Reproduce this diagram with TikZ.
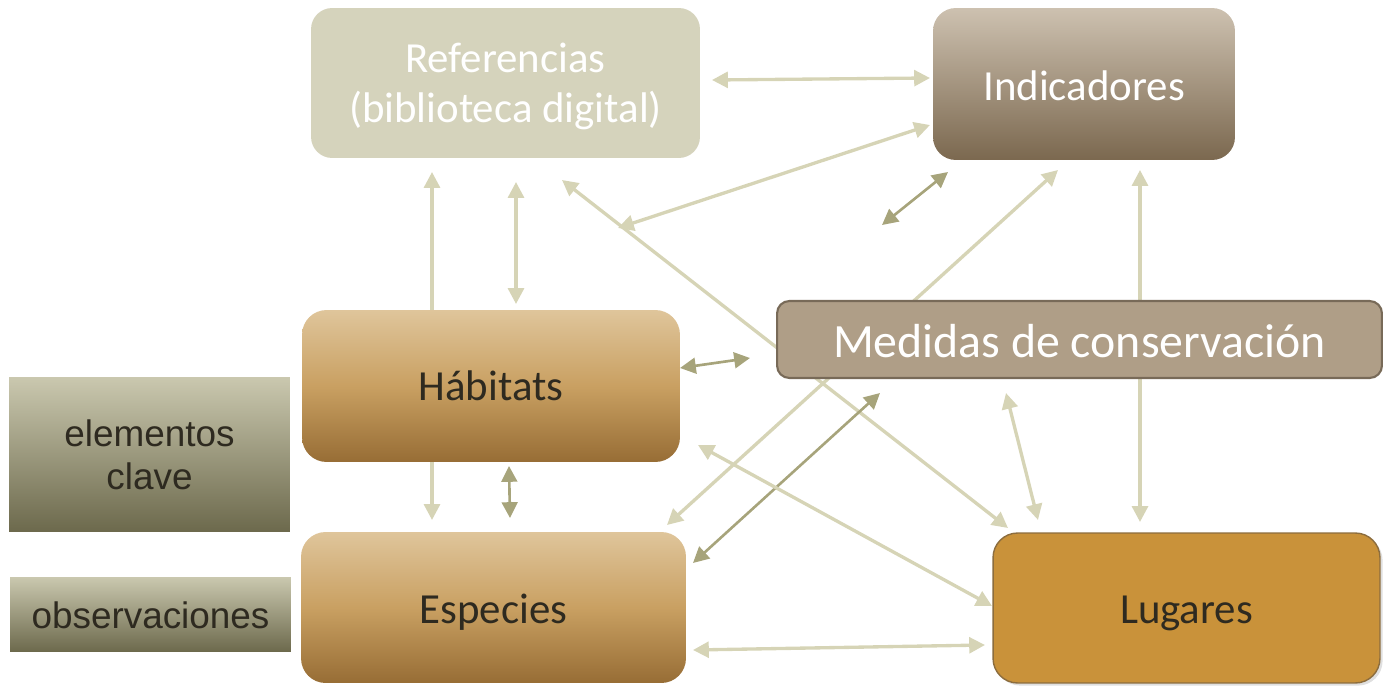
\documentclass[tikz,border=0pt]{standalone}
\usepackage{fontspec}
\setmainfont{Carlito}
\newfontfamily\arialf{Liberation Sans}
\usetikzlibrary{arrows.meta,shadows}
\definecolor{lightc}{HTML}{D6D4B6}
\definecolor{darkc}{HTML}{A7A47B}
\definecolor{reffill}{HTML}{D5D3BC}
\definecolor{indtop}{HTML}{CDC1B0}
\definecolor{indbot}{HTML}{7B684F}
\definecolor{medfill}{HTML}{AF9E87}
\definecolor{medline}{HTML}{786A58}
\definecolor{habtop}{HTML}{DFC59B}
\definecolor{habmid}{HTML}{C9A062}
\definecolor{habbot}{HTML}{976D35}
\definecolor{lugfill}{HTML}{C9923A}
\definecolor{lugline}{HTML}{8C6D3E}
\definecolor{keytop}{HTML}{CAC8AF}
\definecolor{keybot}{HTML}{6C694C}
\definecolor{txtdark}{HTML}{2E2A20}
\pgfdeclarelayer{bg}
\pgfsetlayers{bg,main}
\newcommand{\dn}[2]{\raisebox{-#1}[\height][\depth]{#2}}
\tikzset{
  box/.style={inner sep=0pt, outer sep=0pt, align=center},
  lt/.style={draw=lightc, line width=1.9pt, {Triangle[length=9pt,width=9pt]}-{Triangle[length=9pt,width=9pt]}},
  dk/.style={draw=darkc, line width=1.5pt, {Triangle[length=9pt,width=9pt]}-{Triangle[length=9pt,width=9pt]}},
  bigtxt/.style={font=\fontsize{24.4}{28.4}\selectfont},
  keytxt/.style={font=\arialf\fontsize{21}{24.4}\selectfont, text=txtdark},
  habbox/.style={box, rounded corners=14pt, top color=habtop, bottom color=habbot, middle color=habmid, text=txtdark, bigtxt},
  keybox/.style={box, top color=keytop, bottom color=keybot, keytxt}
}
\begin{document}
\begin{tikzpicture}[x=0.02cm,y=-0.02cm]
\useasboundingbox (0,0) rectangle (1383,686);
% nodes
\node[box, rounded corners=12pt, fill=reffill, text=white, bigtxt,
      minimum width=7.78cm, minimum height=3.0cm] (ref) at (505.5,83)
      {\dn{2.5pt}{\begin{tabular}{@{}c@{}}Referencias\\(biblioteca digital)\end{tabular}}};
\node[box, rounded corners=13pt, top color=indtop, bottom color=indbot, text=white, bigtxt,
      minimum width=6.04cm, minimum height=3.04cm] (ind) at (1084,84) {\dn{1.2pt}{Indicadores}};
\node[box, rounded corners=7pt, fill=medfill, draw=medline, line width=1.2pt, text=white,
      font=\fontsize{27.2}{30}\selectfont,
      minimum width=12.1cm, minimum height=1.54cm] (med) at (1079.5,339.5) {\dn{0.8pt}{Medidas de conservación}};
\node[habbox, minimum width=7.56cm, minimum height=3.04cm] (hab) at (491,386) {Hábitats};
\node[habbox, minimum width=7.7cm, minimum height=3.02cm] (esp) at (493.5,607.5) {\dn{2.5pt}{Especies}};
\node[box, rounded corners=14pt, fill=lugfill, draw=lugline, line width=0.8pt, text=txtdark, bigtxt,
      drop shadow={opacity=0.25, shadow xshift=1.5pt, shadow yshift=-1.5pt},
      minimum width=7.74cm, minimum height=3.0cm] (lug) at (1186.5,608) {\dn{3pt}{Lugares}};
\node[keybox, minimum width=5.62cm, minimum height=3.1cm] (elem) at (149.5,454.5) {elementos\\clave};
\node[keybox, minimum width=5.62cm, minimum height=1.5cm] (obs) at (150.5,614.5) {\dn{0.6pt}{observaciones}};
% arrow end points
\coordinate (a1) at (712,80);   \coordinate (b1) at (930,78);
\coordinate (a2) at (618,228);  \coordinate (b2) at (930,125);
\coordinate (a3) at (882,225);  \coordinate (b3) at (948,172);
\coordinate (a4) at (667,525);  \coordinate (b4) at (1058,170);
\coordinate (a5) at (562,180);  \coordinate (b5) at (1008,528);
\coordinate (a6) at (1140,170); \coordinate (b6) at (1140,522);
\coordinate (a7) at (432,172);  \coordinate (b7) at (432,520);
\coordinate (a8) at (516,182);  \coordinate (b8) at (516,304);
\coordinate (a9) at (680,368);  \coordinate (b9) at (750,358);
\coordinate (a10) at (509,466); \coordinate (b10) at (510,518);
\coordinate (a11) at (693,563); \coordinate (b11) at (880,393);
\coordinate (a12) at (698,445); \coordinate (b12) at (992,606);
\coordinate (a13) at (1006,393);\coordinate (b13) at (1038,520);
\coordinate (a14) at (693,650); \coordinate (b14) at (985,645);
\begin{pgfonlayer}{bg}
\draw[lt] (a1) -- (b1);
\draw[lt] (a2) -- (b2);
\draw[dk] (a3) -- (b3);
\draw[lt] (a4) -- (b4);
\draw[lt] (a5) -- (b5);
\draw[lt] (a6) -- (b6);
\draw[lt] (a7) -- (b7);
\draw[lt] (a8) -- (b8);
\draw[dk] (a9) -- (b9);
\draw[dk] (a10) -- (b10);
\draw[dk] (a11) -- (b11);
\draw[lt] (a12) -- (b12);
\draw[lt] (a13) -- (b13);
\draw[lt] (a14) -- (b14);
\end{pgfonlayer}
\end{tikzpicture}
\end{document}
